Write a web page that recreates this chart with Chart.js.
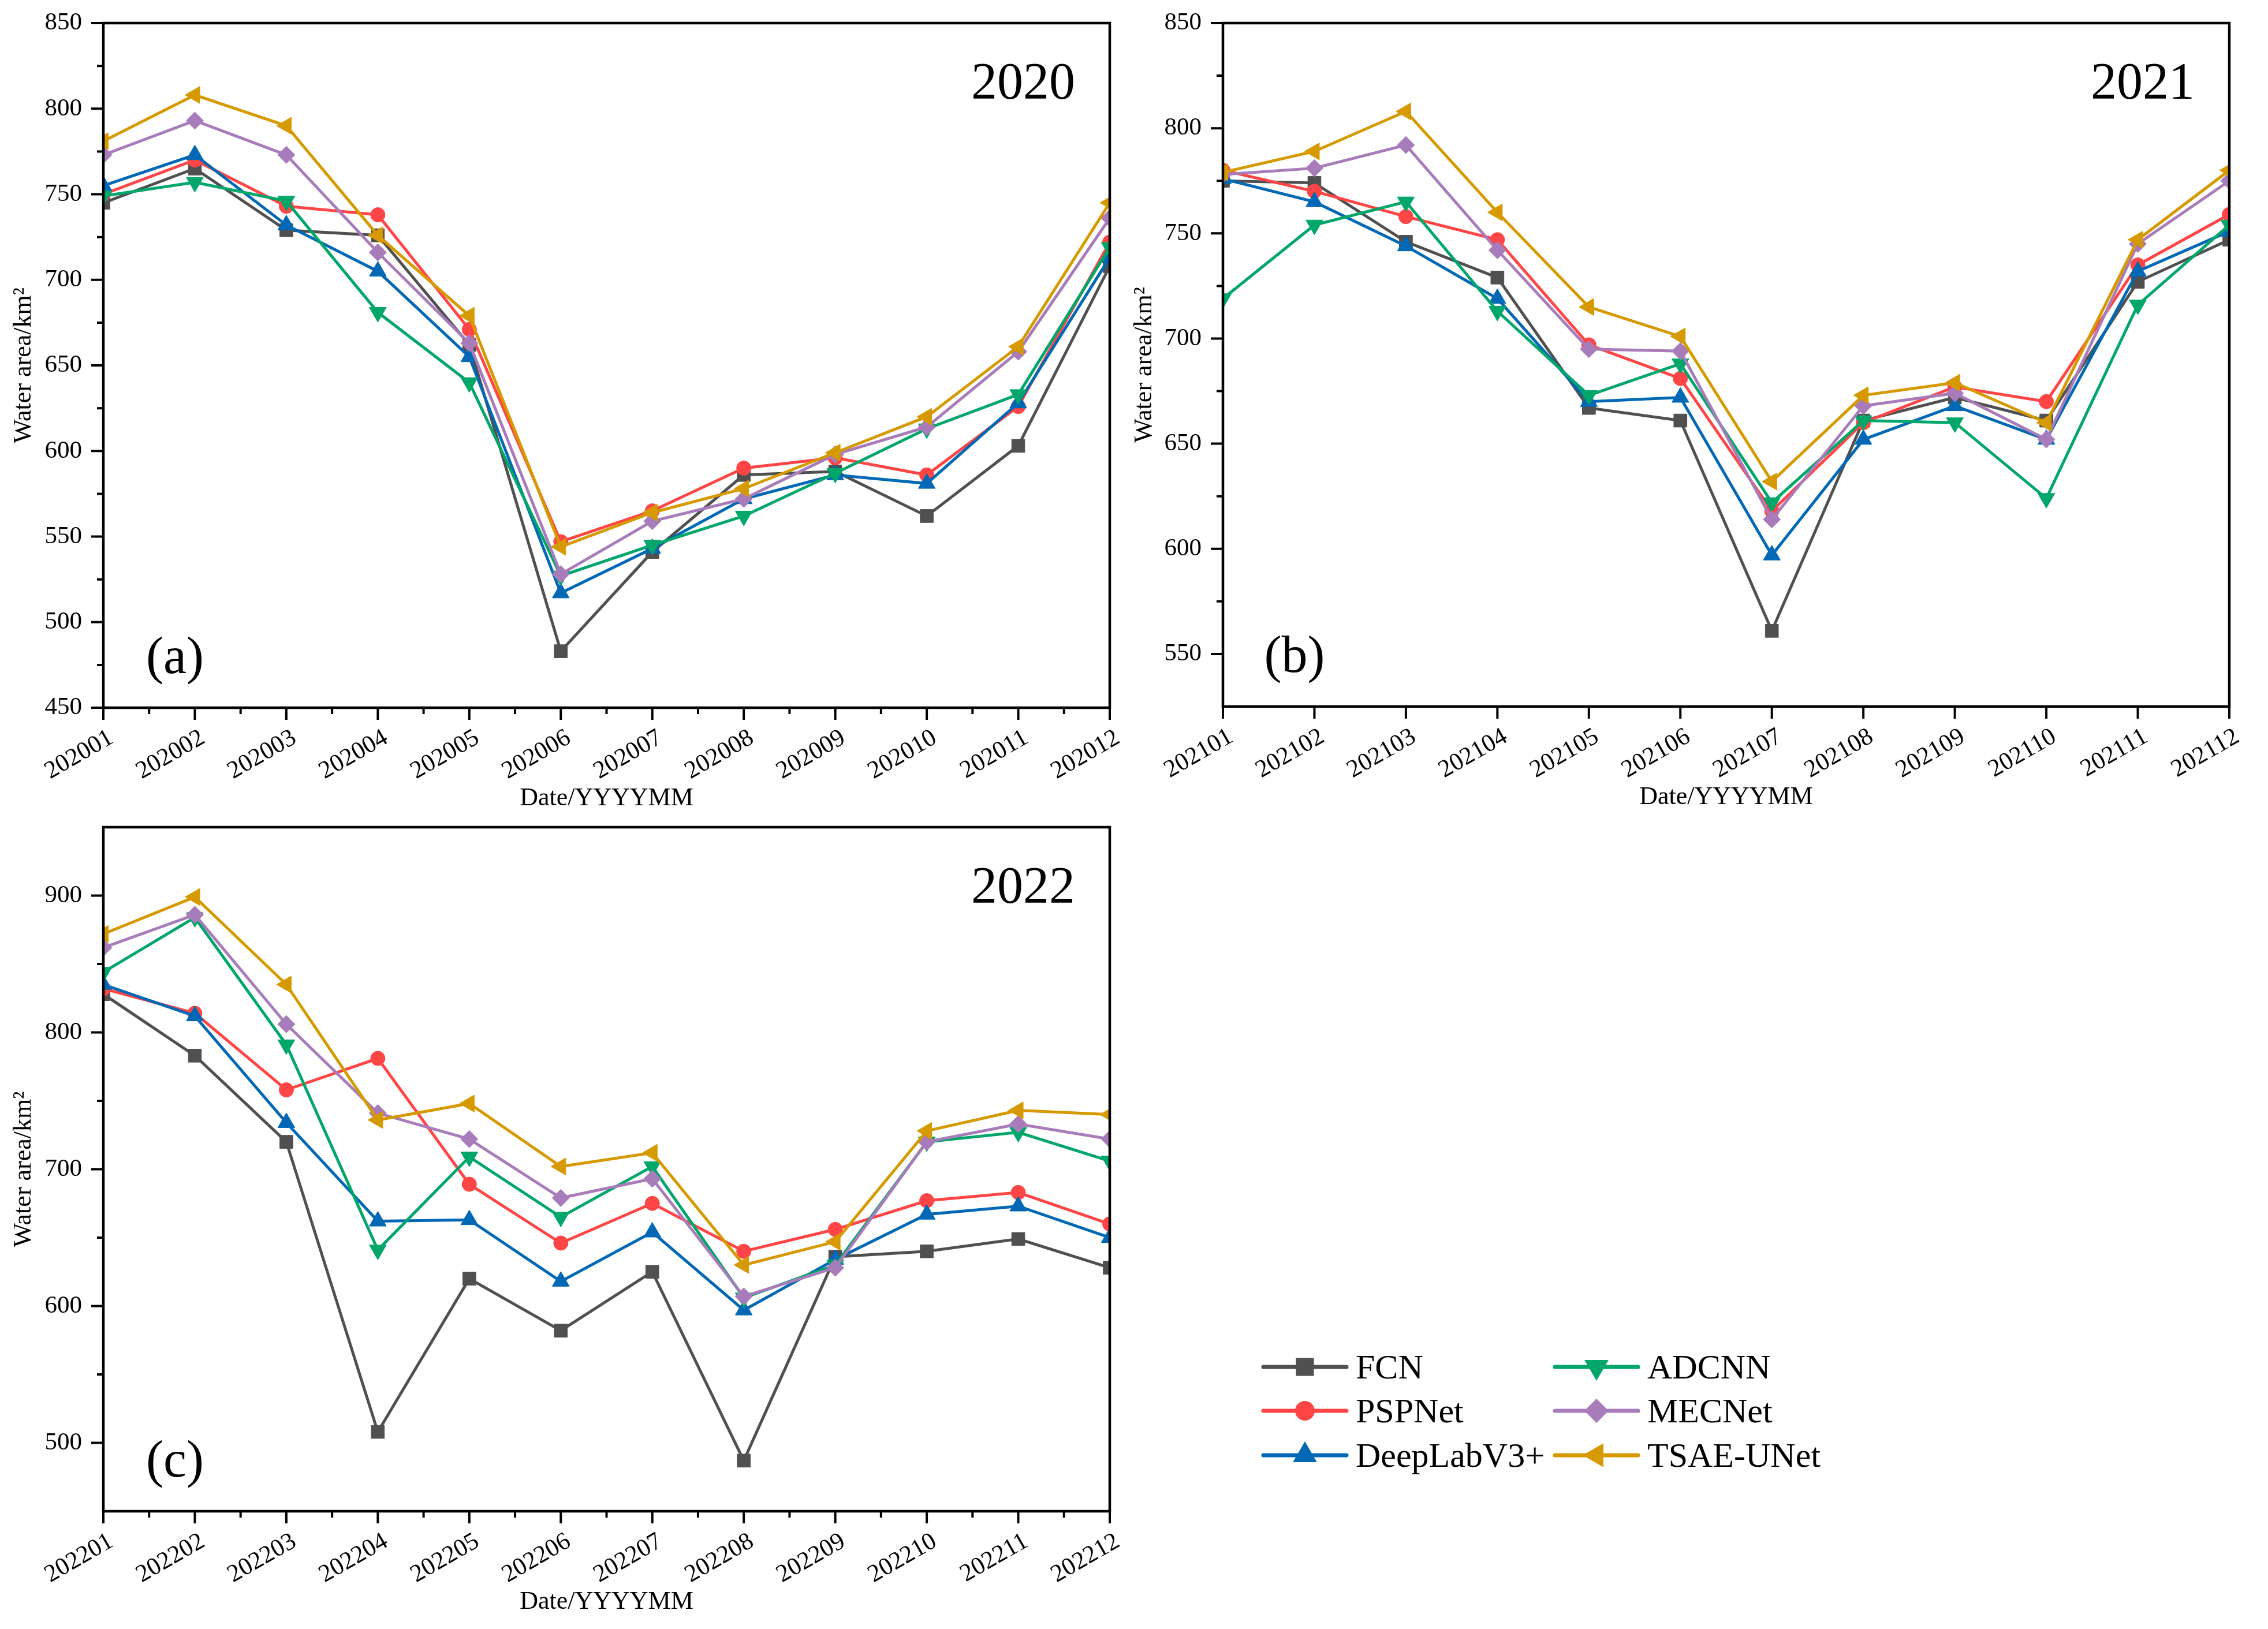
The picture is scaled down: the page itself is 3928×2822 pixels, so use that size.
<!DOCTYPE html>
<html lang="en">
<head>
<meta charset="UTF-8" />
<title>Water area 2020-2022</title>
<script src="https://cdn.jsdelivr.net/npm/chart.js@4"></script>
<style>
  body { margin: 0; background: #fff; }
  #page { position: relative; width: 3928px; height: 2822px; overflow: hidden; background: #fff; }
  canvas { position: absolute; }
</style>
</head>
<body>
<div id="page">
  <canvas id="chart2020" width="1964" height="1411" style="left:0px;top:0px;"></canvas>
  <canvas id="chart2021" width="1978" height="1411" style="left:1950px;top:0px;"></canvas>
  <canvas id="chart2022" width="1964" height="1411" style="left:0px;top:1411px;"></canvas>
  <canvas id="legend" width="1964" height="1411" style="left:1964px;top:1411px;"></canvas>
</div>
<script>
const MONTHS_2020 = ['202001', '202002', '202003', '202004', '202005', '202006', '202007', '202008', '202009', '202010', '202011', '202012'];
const MONTHS_2021 = ['202101', '202102', '202103', '202104', '202105', '202106', '202107', '202108', '202109', '202110', '202111', '202112'];
const MONTHS_2022 = ['202201', '202202', '202203', '202204', '202205', '202206', '202207', '202208', '202209', '202210', '202211', '202212'];

const MODELS = ['FCN', 'PSPNet', 'DeepLabV3+', 'ADCNN', 'MECNet', 'TSAE-UNet'];
const COLORS = ['#505050', '#ff4545', '#0068b5', '#00a66a', '#a87cba', '#d69a00'];
const MARKERS = ['rect', 'circle', 'triangle', 'triangle', 'rectRot', 'triangle'];
const MARKER_ROTATION = [0, 0, 0, 180, 0, 270];

// 2020
const FCN_2020    = [745, 765, 729, 726, 662, 483, 541, 586, 588, 562, 603, 708];
const PSPNET_2020 = [750, 770, 743, 738, 671, 547, 565, 590, 596, 586, 626, 722];
const DEEPLAB_2020 = [755, 773, 732, 705, 655, 517, 543, 572, 586, 581, 628, 713];
const ADCNN_2020  = [749, 757, 746, 681, 640, 527, 545, 562, 587, 613, 633, 719];
const MECNET_2020 = [773, 793, 773, 716, 663, 528, 559, 572, 598, 614, 658, 736];
const TSAE_2020   = [781, 808, 790, 726, 679, 544, 564, 578, 599, 620, 661, 745];

// 2021
const FCN_2021    = [775, 774, 746, 729, 667, 661, 561, 661, 672, 661, 727, 747];
const PSPNET_2021 = [780, 770, 758, 747, 697, 681, 618, 660, 677, 670, 735, 759];
const DEEPLAB_2021 = [776, 765, 744, 719, 670, 672, 597, 652, 668, 652, 732, 751];
const ADCNN_2021  = [719, 754, 765, 713, 673, 688, 622, 661, 660, 624, 716, 754];
const MECNET_2021 = [778, 781, 792, 742, 695, 694, 614, 668, 674, 652, 745, 775];
const TSAE_2021   = [779, 789, 808, 760, 715, 701, 632, 673, 679, 660, 747, 780];

// 2022
const FCN_2022    = [828, 783, 720, 508, 620, 582, 625, 487, 636, 640, 649, 628];
const PSPNET_2022 = [832, 814, 758, 781, 689, 646, 675, 640, 656, 677, 683, 660];
const DEEPLAB_2022 = [835, 812, 734, 662, 663, 618, 654, 597, 634, 667, 673, 650];
const ADCNN_2022  = [844, 884, 791, 641, 709, 665, 702, 606, 630, 720, 727, 706];
const MECNET_2022 = [862, 886, 806, 741, 722, 679, 693, 607, 628, 720, 733, 722];
const TSAE_2022   = [872, 899, 835, 736, 748, 702, 712, 630, 647, 728, 743, 740];

const Y_TICKS_2020 = [450, 500, 550, 600, 650, 700, 750, 800, 850];
const Y_TICKS_2021 = [550, 600, 650, 700, 750, 800, 850];
const Y_TICKS_2022 = [500, 600, 700, 800, 900];

const FONT = "'Liberation Serif', 'Times New Roman', serif";
const MARKER_RADIUS = [16, 12.5, 17, 17, 15, 17];

// Origin-style frame: box, outward major/minor ticks, year and panel labels
function makeFrame(yTicks, minorX, year, panel) {
  return {
    id: 'frame',
    afterDraw(chart) {
      const { ctx, chartArea: a, scales: { x, y } } = chart;
      const step = yTicks[1] - yTicks[0];
      const minorY = [];
      if (yTicks[0] - step / 2 > y.min) minorY.push(yTicks[0] - step / 2);
      yTicks.forEach(v => { if (v + step / 2 < y.max) minorY.push(v + step / 2); });

      ctx.save();
      ctx.strokeStyle = '#000';
      ctx.lineCap = 'butt';
      ctx.lineWidth = 4;
      ctx.beginPath();
      yTicks.forEach(v => {
        const py = y.getPixelForValue(v);
        ctx.moveTo(a.left, py); ctx.lineTo(a.left - 21, py);
      });
      minorY.forEach(v => {
        const py = y.getPixelForValue(v);
        ctx.moveTo(a.left, py); ctx.lineTo(a.left - 11, py);
      });
      const n = chart.data.labels.length;
      for (let i = 0; i < n; i++) {
        const px = x.getPixelForValue(i);
        ctx.moveTo(px, a.bottom); ctx.lineTo(px, a.bottom + 21);
        if (minorX && i < n - 1) {
          const pm = (px + x.getPixelForValue(i + 1)) / 2;
          ctx.moveTo(pm, a.bottom); ctx.lineTo(pm, a.bottom + 11);
        }
      }
      ctx.stroke();

      ctx.lineWidth = 4.5;
      ctx.lineCap = 'square';
      ctx.strokeRect(a.left, a.top, a.right - a.left, a.bottom - a.top);

      ctx.fillStyle = '#000';
      ctx.font = '90px ' + FONT;
      ctx.textBaseline = 'alphabetic';
      ctx.textAlign = 'right';
      ctx.fillText(year, a.right - 60, a.top + 131);
      ctx.textAlign = 'center';
      ctx.fillText(panel, a.left + 124, a.bottom - 60);
      ctx.restore();
    }
  };
}

function buildChart(id, months, series, yMin, yMax, yTicks, minorX, year, panel, lay) {
  return new Chart(document.getElementById(id), {
    type: 'line',
    data: {
      labels: months,
      datasets: MODELS.map((name, i) => ({
        label: name,
        data: series[i],
        borderColor: COLORS[i],
        backgroundColor: COLORS[i],
        borderWidth: 5,
        tension: 0,
        pointStyle: MARKERS[i],
        pointRotation: MARKER_ROTATION[i],
        pointRadius: MARKER_RADIUS[i],
        pointHoverRadius: MARKER_RADIUS[i],
        pointBackgroundColor: COLORS[i],
        pointBorderColor: COLORS[i],
        pointBorderWidth: 1,
        clip: 0,
        order: MODELS.length - i
      }))
    },
    options: {
      responsive: false,
      animation: false,
      devicePixelRatio: 1,
      events: [],
      layout: { padding: lay.padding },
      plugins: { legend: { display: false }, tooltip: { enabled: false } },
      scales: {
        x: {
          // tick marks are drawn by the frame plugin; the invisible ticks only space the labels
          grid: { display: true, drawOnChartArea: false, drawTicks: true, tickLength: 27,
                  color: 'rgba(0,0,0,0)', tickColor: 'rgba(0,0,0,0)' },
          border: { display: false },
          ticks: {
            color: '#000', font: { family: FONT, size: 43 },
            minRotation: 30, maxRotation: 30, autoSkip: false, padding: 0, labelOffset: 14
          },
          title: {
            display: true, text: 'Date/YYYYMM', color: '#000',
            font: { family: FONT, size: 44 }, padding: { top: 0, bottom: 0 }
          },
          afterFit: s => { s.height = 184; }
        },
        y: {
          min: yMin,
          max: yMax,
          afterBuildTicks: s => { s.ticks = yTicks.map(v => ({ value: v })); },
          grid: { display: true, drawOnChartArea: false, drawTicks: true, tickLength: 37,
                  color: 'rgba(0,0,0,0)', tickColor: 'rgba(0,0,0,0)' },
          border: { display: false },
          ticks: { color: '#000', font: { family: FONT, size: 43, lineHeight: 1 }, padding: 0 },
          title: {
            display: true, text: 'Water area/km²', color: '#000',
            font: { family: FONT, size: 44 }, padding: { top: lay.yTitlePad, bottom: 0 }
          },
          afterFit: s => { s.width = lay.yWidth; }
        }
      }
    },
    plugins: [makeFrame(yTicks, minorX, year, panel)]
  });
}

buildChart('chart2020', MONTHS_2020,
  [FCN_2020, PSPNET_2020, DEEPLAB_2020, ADCNN_2020, MECNET_2020, TSAE_2020],
  450, 850, Y_TICKS_2020, true, '2020', '(a)',
  { padding: { left: 0, top: 40, right: 42, bottom: 1 }, yWidth: 179, yTitlePad: 15 });

buildChart('chart2021', MONTHS_2021,
  [FCN_2021, PSPNET_2021, DEEPLAB_2021, ADCNN_2021, MECNET_2021, TSAE_2021],
  525, 850, Y_TICKS_2021, false, '2021', '(b)',
  { padding: { left: 0, top: 40, right: 67, bottom: 3 }, yWidth: 168, yTitlePad: 6 });

buildChart('chart2022', MONTHS_2022,
  [FCN_2022, PSPNET_2022, DEEPLAB_2022, ADCNN_2022, MECNET_2022, TSAE_2022],
  450, 950, Y_TICKS_2022, true, '2022', '(c)',
  { padding: { left: 0, top: 22, right: 42, bottom: 20 }, yWidth: 179, yTitlePad: 15 });

// legend in the empty bottom-right quarter, two columns of three
const LEGEND_RADIUS = [22, 17, 24, 24, 21, 24];
const legendDraw = {
  id: 'legendDraw',
  afterDraw(chart) {
    const ctx = chart.ctx;
    const colX = [224, 729];
    const rowY = [957, 1033, 1110];
    ctx.save();
    chart.data.datasets.forEach((ds, i) => {
      const x0 = colX[Math.floor(i / 3)];
      const y0 = rowY[i % 3];
      ctx.strokeStyle = ds.borderColor;
      ctx.fillStyle = ds.borderColor;
      ctx.lineWidth = 7;
      ctx.lineCap = 'round';
      ctx.beginPath();
      ctx.moveTo(x0, y0);
      ctx.lineTo(x0 + 144, y0);
      ctx.stroke();
      Chart.helpers.drawPoint(ctx, {
        pointStyle: ds.pointStyle, rotation: ds.pointRotation,
        radius: LEGEND_RADIUS[i], borderWidth: 0
      }, x0 + 72, y0);
      ctx.fillStyle = '#000';
      ctx.font = '60px ' + FONT;
      ctx.textAlign = 'left';
      ctx.textBaseline = 'alphabetic';
      ctx.fillText(ds.label, x0 + 160, y0 + 20);
    });
    ctx.restore();
  }
};

new Chart(document.getElementById('legend'), {
  type: 'line',
  data: {
    labels: [],
    datasets: MODELS.map((name, i) => ({
      label: name, data: [], borderColor: COLORS[i],
      pointStyle: MARKERS[i], pointRotation: MARKER_ROTATION[i]
    }))
  },
  options: {
    responsive: false, animation: false, devicePixelRatio: 1, events: [],
    plugins: { legend: { display: false }, tooltip: { enabled: false } },
    scales: { x: { display: false }, y: { display: false } }
  },
  plugins: [legendDraw]
});
</script>
</body>
</html>
